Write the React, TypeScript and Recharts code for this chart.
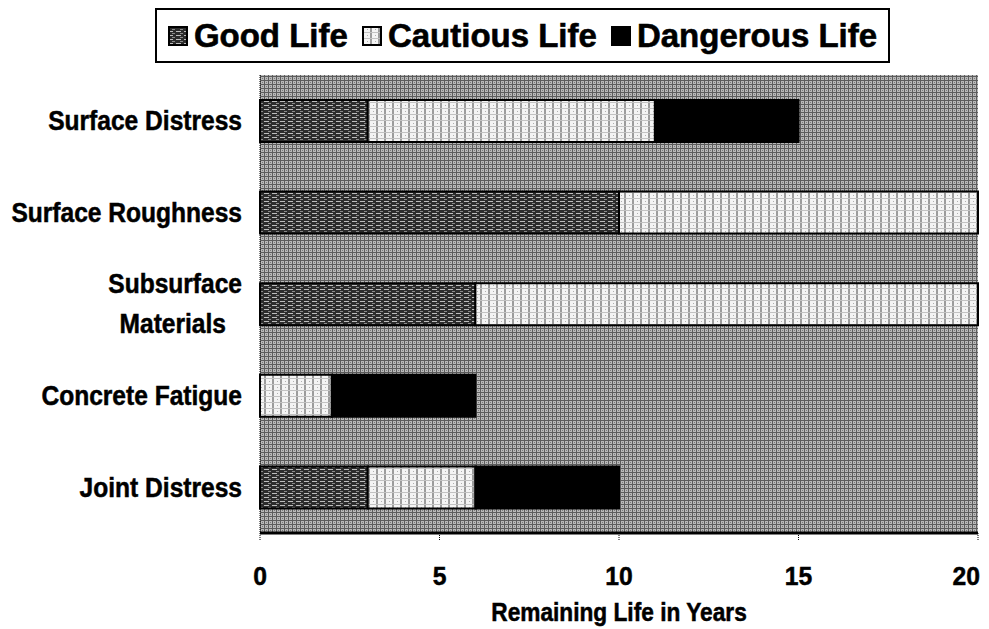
import React from "react";
import { BarChart, Bar, XAxis, YAxis, CartesianGrid, Legend } from "recharts";

const categories = [
  "Surface Distress",
  "Surface Roughness",
  "Subsurface Materials",
  "Concrete Fatigue",
  "Joint Distress",
];
const goodLife = [3, 10, 6, 0, 3];
const cautiousLife = [8, 10, 14, 2, 3];
const dangerousLife = [4, 0, 0, 4, 4];
const xTicks = [0, 5, 10, 15, 20];
const xTitle = "Remaining Life in Years";

const seriesNames = ["Good Life", "Cautious Life", "Dangerous Life"];
const seriesKeys = ["good", "cautious", "dangerous"];
const seriesFills = ["url(#patGood)", "url(#patCautious)", "#000000"];

const data = categories.map((c, i) => ({
  name: c,
  good: goodLife[i],
  cautious: cautiousLife[i],
  dangerous: dangerousLife[i],
}));

const FONT = "'Liberation Sans', Arial, Helvetica, sans-serif";

const CText = ({ x, y, size, sx, anchor, children }: any) => (
  <text
    transform={`translate(${x},${y}) scale(${sx},1)`}
    x={0}
    y={0}
    textAnchor={anchor}
    dominantBaseline="central"
    fontFamily={FONT}
    fontWeight="bold"
    fontSize={size}
    fill="#000"
    stroke="#000"
    strokeWidth={0.5}
  >
    {children}
  </text>
);

const YTick = (props: any) => {
  const { x, y, payload } = props;
  const label: string = payload.value;
  const lines = label === "Subsurface Materials" ? ["Subsurface", "Materials"] : [label];
  const lh = 40;
  const start = y - ((lines.length - 1) * lh) / 2;
  return (
    <g>
      {lines.map((l, i) => (
        <CText key={i} x={lines.length > 1 && i === 1 ? x - 16 : x} y={start + i * lh} size={27} sx={0.91} anchor="end">
          {l}
        </CText>
      ))}
    </g>
  );
};

const XTick = (props: any) => {
  const { x, y, payload, index } = props;
  const last = index === xTicks.length - 1;
  return (
    <CText x={last ? x + 2 : x} y={y + 10} size={26} sx={0.95} anchor={last ? "end" : "middle"}>
      {payload.value}
    </CText>
  );
};

const XTitle = (props: any) => {
  const vb = props.viewBox || {};
  const cx = vb.x + vb.width / 2;
  return (
    <CText x={cx} y={vb.y + 79} size={25.5} sx={0.89} anchor="middle">
      {xTitle}
    </CText>
  );
};

const LegendIcon = ({ fill }: { fill: string }) => (
  <svg width={20} height={20} style={{ display: "block" }}>
    <rect x={1} y={1} width={18} height={18} fill={fill} stroke="#000" strokeWidth={2} />
  </svg>
);

const LegendBox = () => (
  <div style={{ width: 989, height: 75, position: "relative" }}>
    <div
      style={{
        position: "absolute",
        left: 155,
        top: 8,
        width: 735,
        height: 55,
        border: "2px solid #000",
        background: "#fff",
        boxSizing: "border-box",
        display: "flex",
        alignItems: "center",
        justifyContent: "center",
        fontFamily: FONT,
        fontWeight: "bold",
        fontSize: 33,
        color: "#000",
        whiteSpace: "nowrap",
        WebkitTextStroke: "0.6px #000",
      }}
    >
      {seriesNames.map((n, i) => (
        <div key={n} style={{ display: "flex", alignItems: "center", marginRight: i < 2 ? 14 : 0 }}>
          <LegendIcon fill={seriesFills[i]} />
          <span style={{ marginLeft: 6 }}>{n}</span>
        </div>
      ))}
    </div>
  </div>
);

export default function App() {
  return (
    <div style={{ position: "absolute", left: 0, top: 0, width: 989, height: 629, background: "#fff" }}>
      <BarChart
        width={989}
        height={629}
        data={data}
        layout="vertical"
        margin={{ top: 0, right: 11, bottom: 0, left: 0 }}
        barSize={42}
      >
        <defs>
          <pattern id="patBg" x={0} y={0} width={4} height={4} patternUnits="userSpaceOnUse">
            <rect x={0} y={0} width={4} height={4} fill="#b8b8b8" />
            <rect x={0} y={0} width={1} height={4} fill="#5c5c5c" />
            <rect x={0} y={0} width={4} height={1} fill="#5c5c5c" />
            <rect x={2} y={2} width={1} height={1} fill="#7a7a7a" />
          </pattern>
          <pattern id="patGood" x={0} y={0} width={8} height={4} patternUnits="userSpaceOnUse">
            <rect x={0} y={0} width={8} height={4} fill="#2c2c2c" />
            <rect x={0} y={1} width={5} height={1} fill="#bdbdbd" />
            <rect x={4} y={3} width={3} height={1} fill="#8a8a8a" />
          </pattern>
          <pattern id="patCautious" x={0} y={0} width={8} height={6} patternUnits="userSpaceOnUse">
            <rect x={0} y={0} width={8} height={6} fill="#f4f4f4" />
            <rect x={0} y={0} width={2} height={6} fill="#9c9c9c" />
            <rect x={0} y={0} width={8} height={1} fill="#c2c2c2" />
            <rect x={5} y={3} width={1} height={1} fill="#b0b0b0" />
          </pattern>
        </defs>
        <CartesianGrid horizontal={false} vertical={false} fill="url(#patBg)" />
        <Legend verticalAlign="top" align="left" content={() => <LegendBox />} wrapperStyle={{ left: 0, top: 0 }} />
        <XAxis
          type="number"
          domain={[0, 20]}
          ticks={xTicks}
          height={96}
          axisLine={{ stroke: "#000", strokeWidth: 3 }}
          tickLine={{ stroke: "#000", strokeWidth: 1, strokeDasharray: "1 1" }}
          tickSize={7}
          tickMargin={26}
          tick={<XTick />}
          label={<XTitle />}
        />
        <YAxis
          type="category"
          dataKey="name"
          width={260}
          axisLine={{ stroke: "#000", strokeWidth: 1, strokeDasharray: "1 1" }}
          tickLine={false}
          tickSize={6}
          tickMargin={12}
          tick={<YTick />}
          interval={0}
        />
        {seriesKeys.map((k, i) => (
          <Bar
            key={k}
            dataKey={k}
            name={seriesNames[i]}
            stackId="life"
            fill={seriesFills[i]}
            stroke="#000"
            strokeWidth={2}
            isAnimationActive={false}
          />
        ))}
      </BarChart>
    </div>
  );
}
